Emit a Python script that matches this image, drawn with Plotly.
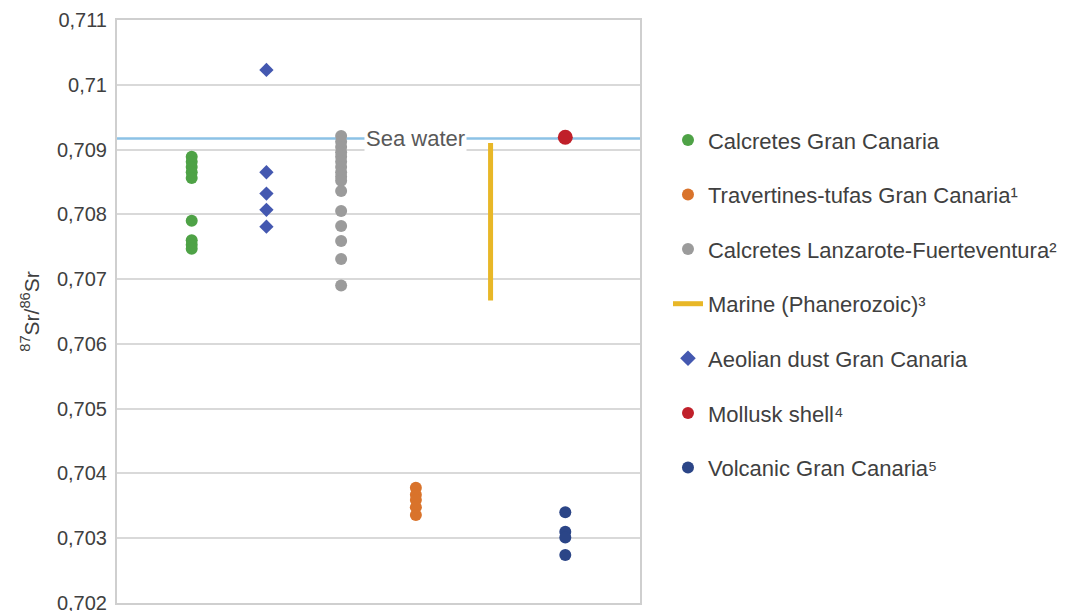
import plotly.graph_objects as go

# ---- data ----
calcretes_gc = [0.70889, 0.70881, 0.70873, 0.70865, 0.70856, 0.70790, 0.70760, 0.70753, 0.70747]
aeolian_dust = [0.71023, 0.70865, 0.70832, 0.70807, 0.70781]
calcretes_lf = [0.70921, 0.70912, 0.70904, 0.70896, 0.70889, 0.70881, 0.70873, 0.70865,
                0.70858, 0.70852, 0.70836, 0.70805, 0.70782, 0.70759, 0.70731, 0.70690]
travertines = [0.70378, 0.70367, 0.70359, 0.70348, 0.70336]
marine_range = [0.70910, 0.70667]
mollusk = [0.70919]
volcanic = [0.70340, 0.70310, 0.70301, 0.70274]
sea_water = 0.70917

cat_pos = {"calc_gc": 1, "aeolian": 2, "calc_lf": 3, "trav": 4, "marine": 5, "mollusk": 6, "volc": 6}

tick_vals = [0.702, 0.703, 0.704, 0.705, 0.706, 0.707, 0.708, 0.709, 0.71, 0.711]
tick_text = ["0,702", "0,703", "0,704", "0,705", "0,706", "0,707", "0,708", "0,709", "0,71", "0,711"]

FONT = "Liberation Sans, Arial, sans-serif"
TXT = "#404040"

fig = go.Figure()

# sea water line (not in legend)
fig.add_trace(go.Scatter(x=[0, 7], y=[sea_water, sea_water], mode="lines",
                         line=dict(color="#8cc2e6", width=2.5), showlegend=False,
                         hoverinfo="skip"))

def pts(vals, key, name, color, symbol="circle", size=12, group=None):
    fig.add_trace(go.Scatter(x=[cat_pos[key]] * len(vals), y=vals, mode="markers", name=name,
                             legendgroup=group or name,
                             marker=dict(color=color, size=size, symbol=symbol)))

pts(calcretes_gc, "calc_gc", "Calcretes Gran Canaria", "#4ea246")
pts(travertines, "trav", "Travertines-tufas Gran Canaria¹", "#d9732b")
pts(calcretes_lf, "calc_lf", "Calcretes Lanzarote-Fuerteventura²", "#9b9b9b")
fig.add_trace(go.Scatter(x=[cat_pos["marine"]] * 2, y=marine_range, mode="lines",
                         name="Marine (Phanerozoic)³", legendgroup="marine",
                         line=dict(color="#e8b727", width=5)))
pts(aeolian_dust, "aeolian", "Aeolian dust Gran Canaria", "#4458b0", symbol="diamond", size=11)
pts(mollusk, "mollusk", "Mollusk shell⁴", "#c0202a", size=15)
pts(volcanic, "volc", "Volcanic Gran Canaria⁵", "#2b4587")

fig.add_annotation(x=4, y=sea_water, text="Sea water", showarrow=False,
                   font=dict(family=FONT, size=22, color="#595959"),
                   bgcolor="white", borderpad=1, xref="x", yref="y")

fig.update_layout(
    width=1070, height=611,
    margin=dict(l=117, r=430, t=20, b=8),
    plot_bgcolor="white", paper_bgcolor="white",
    font=dict(family=FONT, color=TXT, size=20),
    legend=dict(x=1.0535, xanchor="left", y=0.83, yanchor="top",
                font=dict(family=FONT, size=22, color=TXT),
                tracegroupgap=23, itemsizing="constant", bgcolor="rgba(0,0,0,0)"),
    xaxis=dict(range=[0, 7], showticklabels=False, showgrid=False, zeroline=False,
               showline=True, linecolor="#cfcfcf", linewidth=2, mirror=True, ticks="",
               automargin=False),
    yaxis=dict(range=[0.702, 0.711], tickvals=tick_vals, ticktext=tick_text,
               showgrid=True, gridcolor="#d9d9d9", gridwidth=1.5, zeroline=False,
               showline=True, linecolor="#cfcfcf", linewidth=2, mirror=True,
               ticks="", ticklabelstandoff=4, ticklabeloverflow="allow", automargin=False,
               tickfont=dict(family=FONT, size=20, color=TXT),
               title=dict(text="<sup>87</sup>Sr/<sup>86</sup>Sr", standoff=12,
                          font=dict(family=FONT, size=21, color=TXT))),
)

# remove the default page margin so the figure sits at the window origin
fig.write_html("out.html", config={"displayModeBar": False},
               post_script="document.body.style.margin='0';document.body.style.overflow='hidden';")
